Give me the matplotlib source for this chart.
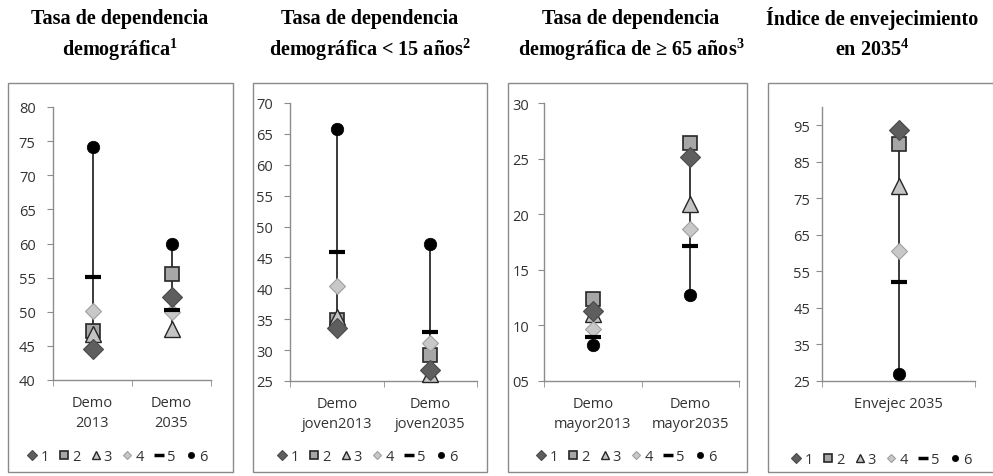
import matplotlib
matplotlib.use("Agg")
import matplotlib.pyplot as plt
from matplotlib.patches import Rectangle
from matplotlib.lines import Line2D
from matplotlib.ticker import FuncFormatter

# datos (series 1..6 por categoria)
cat_total = ["Demo\n2013", "Demo\n2035"]
total_2013 = [44.6, 47.2, 46.7, 50.1, 55.1, 74.2]
total_2035 = [52.1, 55.6, 47.5, 49.9, 50.3, 60.0]

cat_joven = ["Demo\njoven2013", "Demo\njoven2035"]
joven_2013 = [33.6, 34.8, 35.3, 40.4, 45.9, 65.8]
joven_2035 = [26.7, 29.2, 26.2, 31.1, 33.0, 47.1]

cat_mayor = ["Demo\nmayor2013", "Demo\nmayor2035"]
mayor_2013 = [11.3, 12.4, 11.0, 9.7, 9.0, 8.2]
mayor_2035 = [25.1, 26.4, 20.9, 18.7, 17.1, 12.7]

cat_envej = ["Envejec 2035"]
envej_2035 = [93.8, 90.0, 78.5, 60.7, 52.2, 26.8]

series = ["1", "2", "3", "4", "5", "6"]

titulos = [
    ("Tasa de dependencia", "demográfica$^{\\mathbf{1}}$"),
    ("Tasa de dependencia", "demográfica < 15 años$^{\\mathbf{2}}$"),
    ("Tasa de dependencia", "demográfica de ≥ 65 años$^{\\mathbf{3}}$"),
    ("Índice de envejecimiento", "en 2035$^{\\mathbf{4}}$"),
]

W, H = 993, 477
plt.rcParams["font.family"] = ["Open Sans", "DejaVu Sans"]
plt.rcParams["mathtext.fontset"] = "custom"
plt.rcParams["mathtext.bf"] = "Liberation Serif:bold"
plt.rcParams["mathtext.rm"] = "Liberation Serif:bold"

fig = plt.figure(figsize=(W / 100, H / 100), dpi=100)

# estilos de marcadores por serie
estilos = [
    dict(marker="D", ms=10.5, mfc="#5e5e5e", mec="#4a4a4a", mew=0.8),
    dict(marker="s", ms=10.5, mfc="#a6a6a6", mec="#262626", mew=1.2),
    dict(marker="^", ms=12, mfc="#c4c4c4", mec="#262626", mew=1.0),
    dict(marker="D", ms=8.5, mfc="#c8c8c8", mec="#a0a0a0", mew=0.8),
    dict(marker="_", ms=11, mfc="black", mec="black", mew=3.0),
    dict(marker="o", ms=9, mfc="black", mec="black", mew=0.5),
]
orden_z = [8, 3, 4, 5, 6, 7]


def px(x0, y0, x1, y1):
    return [x0 / W, 1 - y1 / H, (x1 - x0) / W, (y1 - y0) / H]


paneles = [
    dict(cats=cat_total, vals=[total_2013, total_2035], ylim=(40, 80), ticks=range(40, 81, 5),
         ax=(53, 108, 211, 381), box=(8, 84, 233, 473), pad=8.5,
         tx=120, leg=(118, 458), fmt="{:d}"),
    dict(cats=cat_joven, vals=[joven_2013, joven_2035], ylim=(25, 70), ticks=range(25, 71, 5),
         ax=(290, 104, 477, 382), box=(253, 84, 487, 473), pad=8,
         tx=370, leg=(368, 458), fmt="{:d}"),
    dict(cats=cat_mayor, vals=[mayor_2013, mayor_2035], ylim=(5, 30), ticks=range(5, 31, 5),
         ax=(544, 104, 739, 382), box=(508, 84, 747, 473), pad=6.5,
         tx=631, leg=(627, 458), fmt="{:02d}"),
    dict(cats=cat_envej, vals=[envej_2035], ylim=(25, 100), ticks=range(25, 96, 10),
         ax=(822, 108, 975, 382), box=(768, 84, 1000, 473), pad=4.5,
         tx=872, leg=(882, 461), fmt="{:d}"),
]

gris_eje = "#8c8c8c"
txt = "#333333"

for i, p in enumerate(paneles):
    bx0, by0, bx1, by1 = p["box"]
    fig.add_artist(Rectangle((bx0 / W, 1 - by1 / H), (bx1 - bx0) / W, (by1 - by0) / H,
                             transform=fig.transFigure, fill=False, ec="#8a8a8a", lw=1.0))
    ax = fig.add_axes(px(*p["ax"]))
    n = len(p["cats"])
    xs = list(range(n))
    for j in range(n):
        v = p["vals"][j]
        ax.vlines(j, min(v), max(v), color="#2b2b2b", lw=1.3, zorder=2)
    for s in range(6):
        ax.plot(xs, [p["vals"][j][s] for j in range(n)], ls="none",
                zorder=orden_z[s], clip_on=False, **estilos[s])
    ax.set_xlim(-0.5, n - 0.5)
    ax.set_ylim(*p["ylim"])
    ax.set_yticks(list(p["ticks"]))
    f = p["fmt"]
    ax.yaxis.set_major_formatter(FuncFormatter(lambda v, pos, f=f: f.format(int(round(v)))))
    ax.set_xticks(xs)
    ax.set_xticklabels(p["cats"], linespacing=1.45)
    ax.set_xticks([k - 0.5 for k in range(n + 1)], minor=True)
    ax.tick_params(axis="x", which="major", length=0, pad=11, labelsize=10.5, labelcolor=txt)
    ax.tick_params(axis="x", which="minor", length=4, color=gris_eje, direction="out")
    ax.tick_params(axis="y", length=4, color=gris_eje, pad=p["pad"], labelsize=10.5, labelcolor=txt)
    for sp in ["top", "right"]:
        ax.spines[sp].set_visible(False)
    for sp in ["left", "bottom"]:
        ax.spines[sp].set_color(gris_eje)
        ax.spines[sp].set_linewidth(1.0)
    ax.set_facecolor("none")

    l1, l2 = titulos[i]
    fig.text(p["tx"] / W, 1 - 19 / H, l1, ha="center", va="center",
             family="Liberation Serif", weight="bold", fontsize=14.5)
    fig.text(p["tx"] / W, 1 - 50 / H, l2, ha="center", va="center",
             family="Liberation Serif", weight="bold", fontsize=14.5)

    handles = []
    for s in range(6):
        e = dict(estilos[s])
        e["ms"] = e["ms"] * 0.5
        if s == 4:
            e["mew"] = 2.5
            e["ms"] = 7
        handles.append(Line2D([], [], ls="none", **e))
    fig.legend(handles, series, loc="center", ncol=6, frameon=False,
               bbox_to_anchor=(p["leg"][0] / W, 1 - p["leg"][1] / H),
               handlelength=0.5, handletextpad=0.3, columnspacing=0.8,
               fontsize=10.5, labelcolor=txt, borderpad=0)

fig.savefig("out.png", dpi=100)
